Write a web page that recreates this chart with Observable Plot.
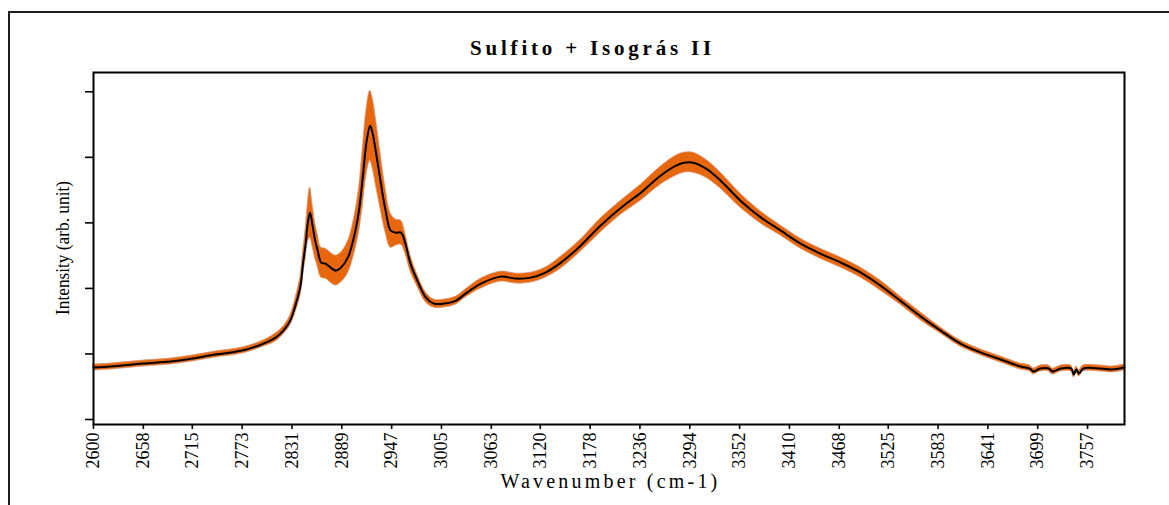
<!DOCTYPE html>
<html>
<head>
<meta charset="utf-8">
<script src="https://cdn.jsdelivr.net/npm/d3@7"></script>
<script src="https://cdn.jsdelivr.net/npm/@observablehq/plot@0.6"></script>
<style>
  html, body { margin: 0; padding: 0; background: #fff; width: 1169px; height: 505px; overflow: hidden; }
  #wrap { position: relative; width: 1169px; height: 505px; }
  #border { position: absolute; left: 8px; top: 11px; width: 1300px; height: 700px;
            border-left: 2px solid #1e1e1e; border-top: 2px solid #1e1e1e; }
  #title { position: relative; height: 62px; box-sizing: border-box; padding-top: 37px; padding-left: 16px;
           text-align: center; font: bold 21px "Liberation Serif", serif; letter-spacing: 3.8px;
           line-height: 22px; color: #000; }
  #chart svg { display: block; }
</style>
</head>
<body>
<div id="wrap">
  <div id="border"></div>
  <div id="title">Sulfito + Isográs II</div>
  <div id="chart"></div>
</div>
<script>
// Wavenumber (cm-1)
const wavenumber = [2600, 2620, 2658, 2690, 2715, 2742, 2773, 2795, 2812, 2821,
  2829, 2835, 2841, 2844, 2847, 2849, 2852, 2855, 2858, 2861,
  2865, 2870, 2876, 2882, 2888, 2896, 2903, 2909, 2913, 2918,
  2922, 2925, 2929, 2934, 2940, 2946, 2952, 2958, 2963, 2969,
  2977, 2987, 2996, 3008, 3022, 3033, 3051, 3074, 3092, 3109,
  3126, 3144, 3167, 3190, 3214, 3237, 3260, 3278, 3287, 3298,
  3313, 3330, 3353, 3377, 3400, 3423, 3446, 3470, 3493, 3516,
  3539, 3563, 3586, 3609, 3633, 3656, 3679, 3690, 3694, 3702,
  3712, 3716, 3726, 3738, 3741, 3744, 3747, 3752, 3772, 3785,
  3800];
// Mean intensity (arb. unit)
const intensity = [52, 53, 56, 58, 61, 65, 69, 75, 82, 89,
  99, 114, 134, 157, 176, 194, 207, 194, 179, 169,
  157, 156, 152, 149, 152, 162, 182, 209, 239, 279,
  294, 286, 266, 239, 209, 189, 187, 187, 176, 156,
  139, 122, 116, 116, 119, 126, 136, 143, 141, 142,
  147, 157, 174, 194, 212, 227, 244, 254, 257, 257,
  251, 239, 219, 202, 189, 176, 166, 157, 147, 134,
  119, 103, 89, 76, 67, 60, 53, 51, 48, 51,
  51, 48, 51, 51, 45, 50, 46, 51, 51, 50,
  52];
// Spread (half width of the orange band)
const spread = [3, 3, 3, 3, 3, 3, 3, 3, 4, 4,
  5, 7, 10, 12, 15, 18, 25, 21, 18, 16,
  15, 15, 15, 15, 15, 16, 18, 22, 28, 33,
  35, 35, 33, 28, 22, 17, 13, 12, 10, 8,
  6, 5, 4, 4, 4, 4, 5, 5, 5, 5,
  5, 6, 6, 7, 7, 8, 9, 10, 10, 10,
  9, 8, 7, 6, 5, 5, 5, 5, 5, 5,
  4, 4, 3, 3, 3, 3, 3, 3, 3, 3,
  3, 3, 3, 3, 3, 3, 3, 3, 3, 3,
  3];
const xTicks = [2600, 2658, 2715, 2773, 2831, 2889, 2947, 3005, 3063, 3120, 3178,
  3236, 3294, 3352, 3410, 3468, 3525, 3583, 3641, 3699, 3757];
const yTicks = [0, 65.6, 131.2, 196.8, 262.4, 328];

const data = wavenumber.map((w, i) => ({wn: w, mean: intensity[i], lo: intensity[i] - spread[i], hi: intensity[i] + spread[i]}));

const W = 1169, H = 443;
const mL = 93, mR = 45, mT = 10, mB = 81;

const chart = Plot.plot({
  width: W, height: H,
  marginLeft: mL, marginRight: mR, marginTop: mT, marginBottom: mB,
  style: {fontFamily: '"Liberation Serif", serif', fontSize: "18px", color: "#000", background: "transparent", overflow: "visible"},
  x: {domain: [2600, 3800]},
  y: {domain: [-5, 347.3]},
  marks: [
    Plot.areaY(data, {x: "wn", y1: "lo", y2: "hi", fill: "#E8670C", stroke: "#d4987a", strokeWidth: 0.8, curve: "catmull-rom"}),
    Plot.lineY(data, {x: "wn", y: "mean", stroke: "#000", strokeWidth: 2, curve: "catmull-rom"}),
    Plot.axisX(xTicks, {anchor: "bottom", tickSize: 5, tickPadding: 3, tickRotate: -90, strokeWidth: 1.6,
      label: null, fontSize: 18, tickFormat: d => String(d)}),
    Plot.axisY(yTicks, {anchor: "left", tickSize: 8, strokeWidth: 1.6, tickFormat: () => "", label: null}),
    Plot.frame({stroke: "#000", strokeWidth: 2})
  ]
});

const svg = d3.select(chart);
svg.append("text")
  .attr("x", (mL + (W - mR)) / 2 + 2)
  .attr("y", 426)
  .attr("text-anchor", "middle")
  .attr("font-family", '"Liberation Serif", serif')
  .attr("font-size", 20)
  .attr("letter-spacing", 3.2)
  .attr("fill", "#000")
  .text("Wavenumber (cm-1)");
svg.append("text")
  .attr("transform", `translate(69, ${mT + (H - mT - mB) / 2}) rotate(-90)`)
  .attr("text-anchor", "middle")
  .attr("font-family", '"Liberation Serif", serif')
  .attr("font-size", 19.5)
  .attr("textLength", 134)
  .attr("lengthAdjust", "spacingAndGlyphs")
  .attr("fill", "#000")
  .text("Intensity (arb. unit)");

document.getElementById("chart").appendChild(chart);
</script>
</body>
</html>
